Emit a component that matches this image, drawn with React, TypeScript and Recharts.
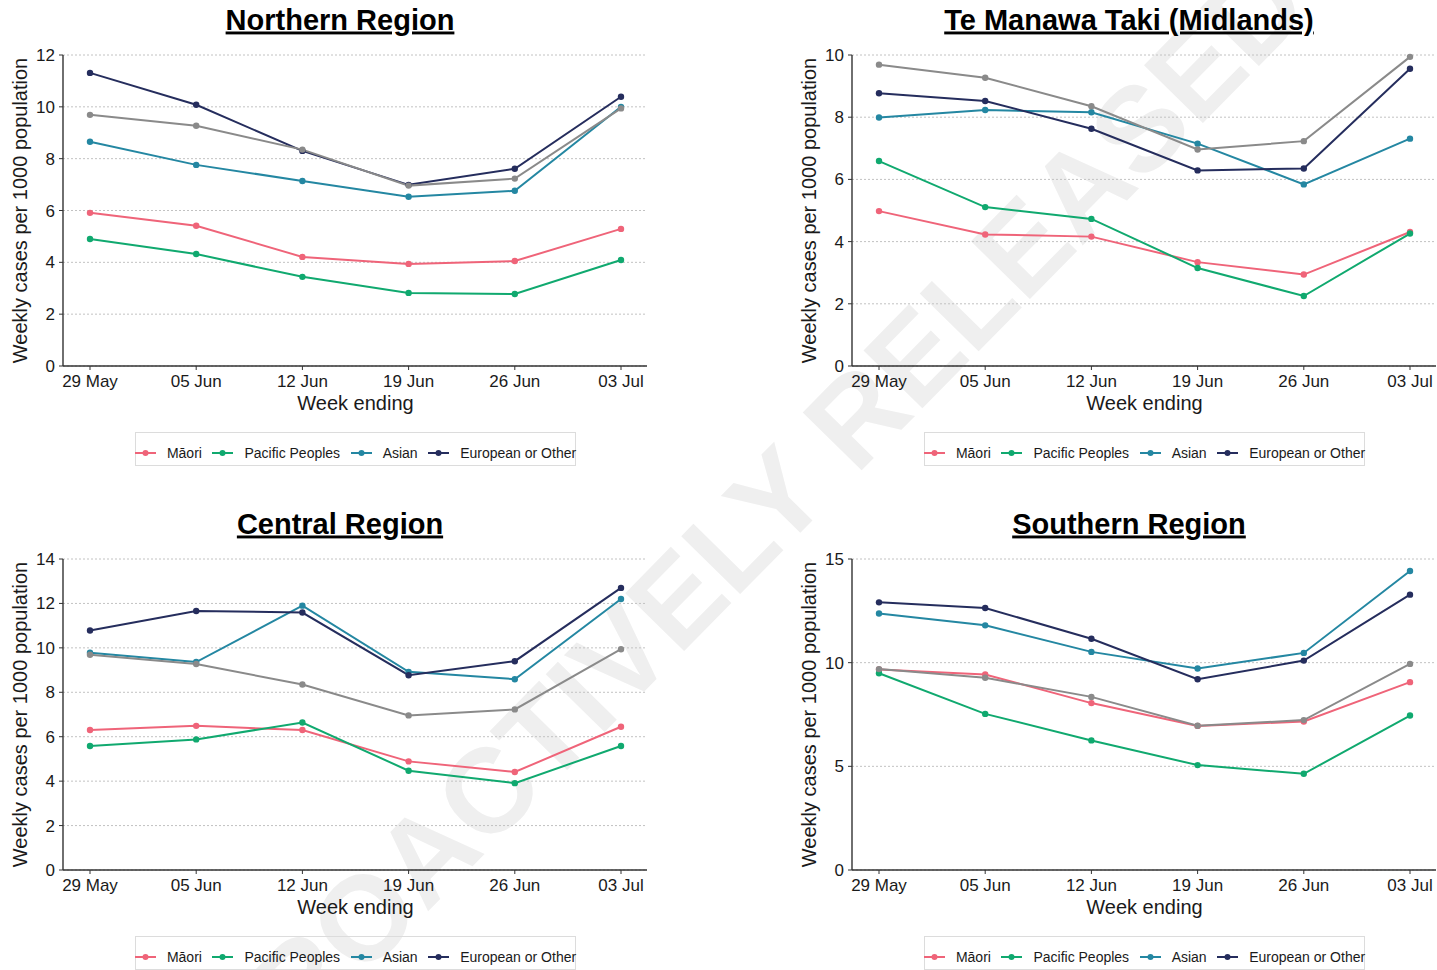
import { LineChart, Line, XAxis, YAxis, CartesianGrid } from 'recharts';

const weeks = ['29 May', '05 Jun', '12 Jun', '19 Jun', '26 Jun', '03 Jul'];

// national rate, the grey line repeated in every panel (not in legend)
const nzTotal = [9.69, 9.27, 8.35, 6.96, 7.23, 9.94];

const northernMaori = [5.91, 5.41, 4.21, 3.94, 4.05, 5.29];
const northernPacific = [4.9, 4.32, 3.44, 2.82, 2.78, 4.09];
const northernAsian = [8.65, 7.76, 7.14, 6.53, 6.76, 10.0];
const northernEuropean = [11.31, 10.08, 8.3, 6.99, 7.61, 10.39];

const midlandsMaori = [4.98, 4.23, 4.16, 3.34, 2.94, 4.31];
const midlandsPacific = [6.59, 5.11, 4.73, 3.15, 2.25, 4.26];
const midlandsAsian = [7.99, 8.23, 8.16, 7.15, 5.84, 7.31];
const midlandsEuropean = [8.77, 8.52, 7.63, 6.29, 6.35, 9.56];

const centralMaori = [6.3, 6.49, 6.3, 4.89, 4.41, 6.45];
const centralPacific = [5.58, 5.88, 6.64, 4.47, 3.91, 5.58];
const centralAsian = [9.78, 9.36, 11.9, 8.92, 8.59, 12.2];
const centralEuropean = [10.78, 11.66, 11.59, 8.77, 9.4, 12.7];

const southernMaori = [9.67, 9.43, 8.05, 6.95, 7.16, 9.06];
const southernPacific = [9.49, 7.53, 6.25, 5.06, 4.64, 7.45];
const southernAsian = [12.37, 11.8, 10.52, 9.72, 10.47, 14.42];
const southernEuropean = [12.91, 12.64, 11.15, 9.2, 10.1, 13.28];

const ticksTo12 = [0, 2, 4, 6, 8, 10, 12];
const ticksTo10 = [0, 2, 4, 6, 8, 10];
const ticksTo14 = [0, 2, 4, 6, 8, 10, 12, 14];
const ticksTo15 = [0, 5, 10, 15];

const COLORS = {
  maori: '#ef6479',
  pacific: '#10a96f',
  asian: '#2487a2',
  european: '#252d5d',
  total: '#8a8a8a',
};

const legendItems = [
  { key: 'maori', label: 'Māori' },
  { key: 'pacific', label: 'Pacific Peoples' },
  { key: 'asian', label: 'Asian' },
  { key: 'european', label: 'European or Other' },
];

const FONT = "'Liberation Sans', Arial, Helvetica, sans-serif";

interface PanelProps {
  title: string;
  left: number;
  top: number;
  yMax: number;
  yTicks: number[];
  maori: number[];
  pacific: number[];
  asian: number[];
  european: number[];
}

function RegionLegend() {
  return (
    <div
      style={{
        position: 'absolute',
        left: 135,
        top: 432,
        width: 441,
        height: 34,
        boxSizing: 'border-box',
        border: '1px solid #dcdcdc',
        paddingTop: 8,
        display: 'flex',
        alignItems: 'center',
        justifyContent: 'center',
        fontSize: 14,
        color: '#1a1a1a',
        whiteSpace: 'nowrap',
      }}
    >
      {legendItems.map((item, i) => {
        const color = COLORS[item.key as keyof typeof COLORS];
        return (
          <div key={item.key} style={{ display: 'flex', alignItems: 'center', marginRight: i < 3 ? 10.5 : 0 }}>
            <svg width={21} height={8}>
              <line x1={0} x2={21} y1={4} y2={4} stroke={color} strokeWidth={2} />
              <circle cx={10.5} cy={4} r={3} fill={color} />
            </svg>
            <span style={{ marginLeft: 11 }}>{item.label}</span>
          </div>
        );
      })}
    </div>
  );
}

function RegionPanel({ title, left, top, yMax, yTicks, maori, pacific, asian, european }: PanelProps) {
  const data = weeks.map((week, i) => ({
    week,
    maori: maori[i],
    pacific: pacific[i],
    asian: asian[i],
    european: european[i],
    total: nzTotal[i],
  }));

  const series = ['maori', 'pacific', 'asian', 'european', 'total'] as const;

  return (
    <div style={{ position: 'absolute', left, top, width: 660, height: 504 }}>
      <svg width={660} height={504} style={{ position: 'absolute', left: 0, top: 0 }}>
        <text
          x={340}
          y={29.5}
          textAnchor="middle"
          fontSize={29}
          fontWeight="bold"
          fill="#000"
          style={{ textDecoration: 'underline' }}
        >
          {title}
        </text>
        <text x={27} y={210.5} transform="rotate(-90 27 210.5)" textAnchor="middle" fontSize={20} fill="#1a1a1a">
          Weekly cases per 1000 population
        </text>
        <text x={355.5} y={410} textAnchor="middle" fontSize={20} fill="#1a1a1a">
          Week ending
        </text>
      </svg>
      <div style={{ position: 'absolute', left: 0, top: 0 }}>
        <LineChart width={660} height={400} data={data} margin={{ top: 55, right: 13, bottom: 0, left: 0 }}>
          <CartesianGrid vertical={false} stroke="#c2c2c2" strokeDasharray="2 2" />
          <XAxis
            dataKey="week"
            scale="point"
            padding={{ left: 27, right: 26 }}
            height={34}
            interval={0}
            tickSize={4}
            tickMargin={5}
            tick={{ fill: '#1a1a1a', fontSize: 17 }}
            axisLine={{ stroke: '#333', strokeWidth: 1.4 }}
            tickLine={{ stroke: '#333' }}
          />
          <YAxis
            type="number"
            domain={[0, yMax]}
            ticks={yTicks}
            width={63}
            tickSize={4}
            tickMargin={4}
            tick={{ fill: '#1a1a1a', fontSize: 17 }}
            axisLine={{ stroke: '#333', strokeWidth: 1.4 }}
            tickLine={{ stroke: '#333' }}
          />
          {series.map((key) => (
            <Line
              key={key}
              type="linear"
              dataKey={key}
              stroke={COLORS[key]}
              strokeWidth={2}
              dot={{ r: 3.2, fill: COLORS[key], stroke: COLORS[key], strokeWidth: 0 }}
              activeDot={false}
              isAnimationActive={false}
            />
          ))}
        </LineChart>
      </div>
      <RegionLegend />
    </div>
  );
}

export default function App() {
  return (
    <div
      style={{
        position: 'absolute',
        left: 0,
        top: 0,
        width: 1437,
        height: 970,
        overflow: 'hidden',
        background: '#fff',
        fontFamily: FONT,
      }}
    >
      {/* watermark, runs off the page corners like the original */}
      <svg width={1437} height={970} style={{ position: 'absolute', left: 0, top: 0 }}>
        <text
          x={749}
          y={525}
          transform="rotate(-45.5 749 525)"
          textAnchor="middle"
          dominantBaseline="central"
          fontSize={120}
          fontWeight="bold"
          fill="#efefef"
        >
          PROACTIVELY RELEASED
        </text>
      </svg>

      <RegionPanel
        title="Northern Region"
        left={0}
        top={0}
        yMax={12}
        yTicks={ticksTo12}
        maori={northernMaori}
        pacific={northernPacific}
        asian={northernAsian}
        european={northernEuropean}
      />
      <RegionPanel
        title="Te Manawa Taki (Midlands)"
        left={789}
        top={0}
        yMax={10}
        yTicks={ticksTo10}
        maori={midlandsMaori}
        pacific={midlandsPacific}
        asian={midlandsAsian}
        european={midlandsEuropean}
      />
      <RegionPanel
        title="Central Region"
        left={0}
        top={504}
        yMax={14}
        yTicks={ticksTo14}
        maori={centralMaori}
        pacific={centralPacific}
        asian={centralAsian}
        european={centralEuropean}
      />
      <RegionPanel
        title="Southern Region"
        left={789}
        top={504}
        yMax={15}
        yTicks={ticksTo15}
        maori={southernMaori}
        pacific={southernPacific}
        asian={southernAsian}
        european={southernEuropean}
      />
    </div>
  );
}
